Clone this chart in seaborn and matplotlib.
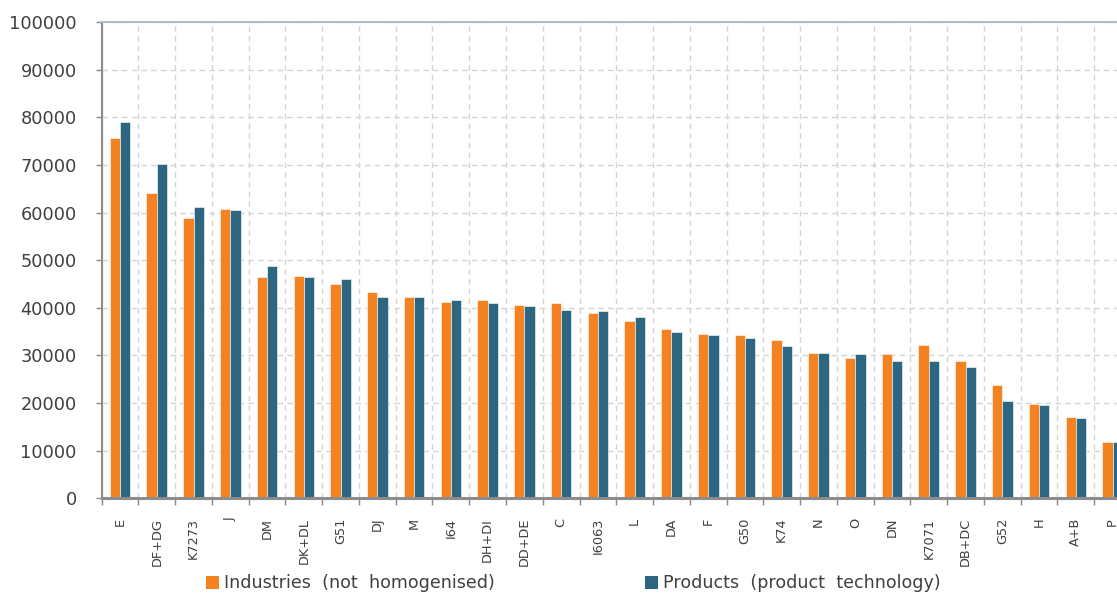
import matplotlib
matplotlib.use("Agg")
import matplotlib.pyplot as plt
from matplotlib.patches import Patch
from matplotlib.ticker import MultipleLocator, FixedLocator
import numpy as np
import pandas as pd
import seaborn as sns

# Branch codes, ordered by value
categories = ["E", "DF+DG", "K7273", "J", "DM", "DK+DL", "G51", "DJ", "M", "I64",
              "DH+DI", "DD+DE", "C", "I6063", "L", "DA", "F", "G50", "K74", "N",
              "O", "DN", "K7071", "DB+DC", "G52", "H", "A+B", "P"]

industries = [75700, 64200, 58800, 60800, 46400, 46700, 45000, 43300, 42300, 41300,
              41700, 40600, 41000, 38900, 37200, 35600, 34600, 34200, 33300, 30600,
              29500, 30300, 32300, 28800, 23800, 19800, 17100, 11800]

products = [79000, 70200, 61100, 60500, 48700, 46400, 46100, 42300, 42300, 41700,
            41000, 40300, 39600, 39300, 38000, 34900, 34200, 33600, 31900, 30600,
            30300, 28900, 28900, 27600, 20500, 19500, 16800, 11800]

series_names = ["Industries  (not  homogenised)", "Products  (product  technology)"]
colors = ["#F58220", "#2C6680"]

df = pd.DataFrame({
    "branch": categories * 2,
    "value": industries + products,
    "series": [series_names[0]] * len(categories) + [series_names[1]] * len(categories),
})

sns.set_theme(style="white")
plt.rcParams["font.family"] = ["DejaVu Sans"]

fig = plt.figure(figsize=(11.17, 5.96), dpi=100)
ax = fig.add_axes([0.091, 0.164, 0.9215, 0.7986])

sns.barplot(data=df, x="branch", y="value", hue="series", order=categories,
            hue_order=series_names, palette=colors, width=0.56, gap=0,
            edgecolor="#FFFFFF", linewidth=0.4, saturation=1, ax=ax, legend=False)

n = len(categories)
ax.set_xlim(-0.5, n - 0.5)
ax.set_ylim(0, 100000)
ax.yaxis.set_major_locator(MultipleLocator(10000))
ax.xaxis.set_minor_locator(FixedLocator(np.arange(-0.5, n, 1.0)))

grid_kw = dict(color="#D4D4D4", linestyle=(0, (4, 3)), linewidth=1.0)
ax.grid(axis="y", which="major", **grid_kw)
ax.grid(axis="x", which="minor", **grid_kw)
ax.grid(axis="x", which="major", visible=False)
ax.set_axisbelow(True)

ax.set_xlabel("")
ax.set_ylabel("")
ax.tick_params(axis="y", which="major", left=True, length=4, width=1, color="#888888",
               labelsize=12.8, labelcolor="#404040", pad=14)
ax.tick_params(axis="x", which="major", bottom=False, length=0, labelsize=9.3,
               labelcolor="#404040", pad=14, labelrotation=90)
ax.tick_params(axis="x", which="minor", bottom=True, length=5, width=1, color="#888888")

for side in ["left", "bottom"]:
    ax.spines[side].set_color("#8C8C8C")
ax.spines["left"].set_linewidth(1.5)
ax.spines["bottom"].set_linewidth(2.2)
ax.spines["top"].set_color("#AEBBC8")
ax.spines["top"].set_linewidth(1.5)
ax.spines["right"].set_visible(False)

# Two separate legend entries placed along the bottom
for name, col, xpos in zip(series_names, colors, [0.184, 0.577]):
    fig.legend(handles=[Patch(facecolor=col, edgecolor="none")], labels=[name],
               loc="center left", bbox_to_anchor=(xpos, 0.021), frameon=False,
               fontsize=12.6, handlelength=0.75, handleheight=0.75,
               handletextpad=0.3, borderaxespad=0, borderpad=0,
               labelcolor="#404040")

fig.savefig("out.png", dpi=100)
